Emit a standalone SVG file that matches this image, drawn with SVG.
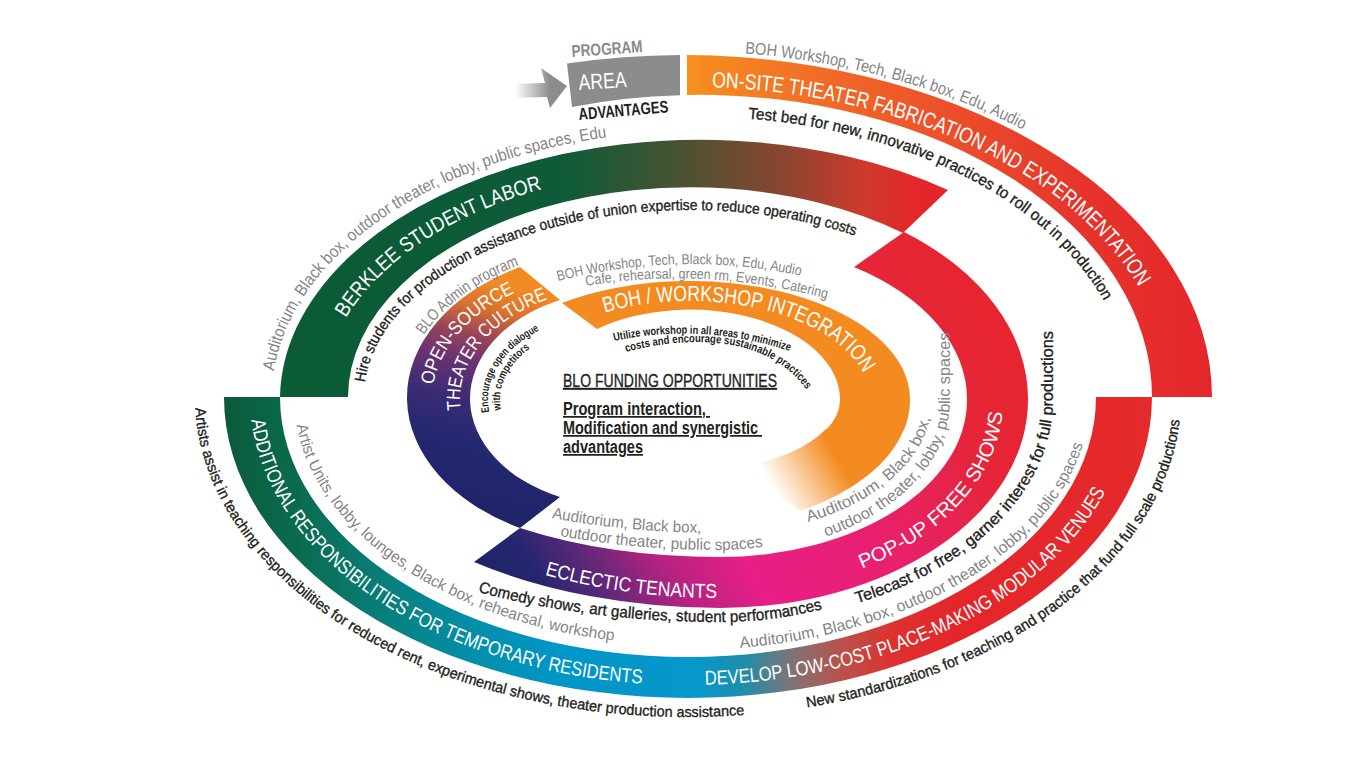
<svg xmlns="http://www.w3.org/2000/svg" width="1366" height="768" viewBox="0 0 1366 768">
<style>
.t{font-family:"Liberation Sans Narrow","Liberation Sans",Arial,sans-serif}
.w{fill:#ffffff}
.g{fill:#858585}
.k{fill:#231f20}
.kd{fill:#231f20;stroke:#231f20;stroke-width:0.35}
.b{font-weight:bold}
</style>
<defs>
<linearGradient id="gOnsite" gradientUnits="userSpaceOnUse" x1="687" y1="200" x2="1212" y2="200">
<stop offset="0" stop-color="#f6901f"/><stop offset="0.25" stop-color="#f16c26"/><stop offset="0.5" stop-color="#ec4f2a"/><stop offset="0.75" stop-color="#e6342b"/><stop offset="1" stop-color="#e4262b"/>
</linearGradient>
<linearGradient id="gBerk" gradientUnits="userSpaceOnUse" x1="280" y1="200" x2="950" y2="200">
<stop offset="0" stop-color="#0b5b37"/><stop offset="0.42" stop-color="#0d5b38"/><stop offset="0.6" stop-color="#4a5232"/><stop offset="0.75" stop-color="#8a4530"/><stop offset="0.87" stop-color="#cc3a2d"/><stop offset="0.95" stop-color="#e4262b"/><stop offset="1" stop-color="#e4262b"/>
</linearGradient>
<linearGradient id="gDev" gradientUnits="userSpaceOnUse" x1="224" y1="397" x2="1152" y2="397">
<stop offset="0" stop-color="#0b5a3a"/><stop offset="0.082" stop-color="#0a6b50"/><stop offset="0.168" stop-color="#087e78"/><stop offset="0.265" stop-color="#048ea8"/><stop offset="0.362" stop-color="#0096c8"/><stop offset="0.513" stop-color="#0897cb"/><stop offset="0.561" stop-color="#1f8ea8"/><stop offset="0.61" stop-color="#7c7479"/><stop offset="0.664" stop-color="#b9524c"/><stop offset="0.718" stop-color="#dc3230"/><stop offset="0.782" stop-color="#e4262b"/><stop offset="1" stop-color="#e52a2b"/>
</linearGradient>
<linearGradient id="gPop" gradientUnits="userSpaceOnUse" x1="990" y1="250" x2="480" y2="560">
<stop offset="0" stop-color="#e6252b"/><stop offset="0.2" stop-color="#e6253a"/><stop offset="0.42" stop-color="#e82070"/><stop offset="0.62" stop-color="#e91e86"/><stop offset="0.75" stop-color="#b02380"/><stop offset="0.85" stop-color="#5d2878"/><stop offset="0.93" stop-color="#262670"/><stop offset="1" stop-color="#1f2468"/>
</linearGradient>
<linearGradient id="gOpen" gradientUnits="userSpaceOnUse" x1="480" y1="530" x2="545" y2="268">
<stop offset="0" stop-color="#1e2266"/><stop offset="0.3" stop-color="#232870"/><stop offset="0.45" stop-color="#3a2b74"/><stop offset="0.6" stop-color="#6a3372"/><stop offset="0.7" stop-color="#9a4558"/><stop offset="0.8" stop-color="#d9702f"/><stop offset="0.9" stop-color="#f08a24"/><stop offset="1" stop-color="#f48b21"/>
</linearGradient>
<linearGradient id="gTail" gradientUnits="userSpaceOnUse" x1="880" y1="440" x2="780" y2="500">
<stop offset="0" stop-color="#f48b21" stop-opacity="1"/><stop offset="0.4" stop-color="#f48b21" stop-opacity="1"/><stop offset="1" stop-color="#f48b21" stop-opacity="0"/>
</linearGradient>
<linearGradient id="gArrow" gradientUnits="userSpaceOnUse" x1="515" y1="90" x2="550" y2="90">
<stop offset="0" stop-color="#8c8c8c" stop-opacity="0"/><stop offset="1" stop-color="#8c8c8c"/>
</linearGradient>
<path id="p_onsite" d="M712,87.3 A480,310 0 0 1 1170,397"/>
<path id="p_boh1" d="M745,53.5 A540,346 0 0 1 1220,397"/>
<path id="p_testbed" d="M748,118.7 A430,280 0 0 1 1130,397"/>
<path id="p_berk" d="M346,318 A372,228 0 0 1 1067,397"/>
<path id="p_aud1" d="M274,371.2 A428,266 0 0 1 1128,397"/>
<path id="p_hire" d="M365,382.4 A326,187 0 0 1 1016,397"/>
<path id="p_addl" d="M251.4,420.1 A438,288 0 0 0 1126,397"/>
<path id="p_dev" d="M705,684.8 A442,288 0 0 0 1130,397 L1130,370"/>
<path id="p_artists" d="M195.3,408.2 A493,320 0 0 0 688,717 A493,320 0 0 0 1181,397"/>
<path id="p_newstd" d="M807,707.5 A493,320 0 0 0 1181,397 L1181,370"/>
<path id="p_units" d="M296.5,425.1 A394,248 0 0 0 688,645 A394,248 0 0 0 1082,397"/>
<path id="p_auddev" d="M740,647.9 A402,253 0 0 0 1090,397"/>
<path id="p_popup" d="M862,568.7 A283,195 0 0 0 1003,400 L1003,370"/>
<path id="p_eclectic" d="M545,574.7 A372,198 0 0 0 720,598 A300,198 0 0 0 1020,400"/>
<path id="p_telecast" d="M857,603.2 A333,223 0 0 0 1053,400 L1053,300"/>
<path id="p_comedy" d="M478,592 A482,222 0 0 0 720,622 A304,222 0 0 0 1024,400"/>
<path id="p_audecl1" d="M552,518 A364,133 0 0 0 720,533 L800,533"/>
<path id="p_audecl2" d="M560,536 A379,150 0 0 0 720,550 A200,150 0 0 0 920,400"/>
<path id="p_audpop1" d="M808,522 A212,134 0 0 0 932,400 L932,330"/>
<path id="p_audpop2" d="M826,536.7 A230,154 0 0 0 950,400 L950,310"/>
<path id="p_open1" d="M433.3,385 A188,130 0 0 1 808,400"/>
<path id="p_open2" d="M460.6,410 A160,113 0 0 1 620,287 A160,113 0 0 1 780,400"/>
<path id="p_bloadmin" d="M423.8,335 A217,152 0 0 1 837,400"/>
<path id="p_enc1" d="M489.2,412 A132,88 0 0 1 620,312 A132,88 0 0 1 752,400"/>
<path id="p_enc2" d="M501,410 A120,78 0 0 1 620,322 A120,78 0 0 1 740,400"/>
<path id="p_bohint" d="M605,312.7 A180,99 0 0 1 870,400"/>
<path id="p_bohl1" d="M558,281 Q680,250 802,276 L830,282"/>
<path id="p_bohl2" d="M586,286 Q705,266 828,299 L855,306"/>
<path id="p_util1" d="M614,341 Q705,322 792,352 L820,362"/>
<path id="p_util2" d="M626,352 C690,335 770,335 808,392 L820,410"/>
</defs>

<rect width="1366" height="768" fill="#ffffff"/>

<g id="legend">
<path d="M567,63.5 A532,342 0 0 1 680,55 L680,95.3 A452,302 0 0 0 572,107 Z" fill="#8c8c8c"/>
<text class="t b" x="572" y="57" font-size="17" fill="#8a8a8a" transform="rotate(-4 572 57)" textLength="71" lengthAdjust="spacingAndGlyphs">PROGRAM</text>
<text class="t w" x="579" y="90" font-size="22" transform="rotate(-3.6 579 90)" textLength="48" lengthAdjust="spacingAndGlyphs">AREA</text>
<text class="t b k" x="579" y="120" font-size="17" transform="rotate(-5 579 120)" textLength="90" lengthAdjust="spacingAndGlyphs">ADVANTAGES</text>
</g>

<g id="connectors">
<polygon points="512,84 545,83 541,68 567,86 550,108 547,97 512,98" fill="url(#gArrow)"/>
</g>

<g id="onsite">
<path d="M687,55 A532,342 0 0 1 1212,397 L1152,397 A452,302 0 0 0 687,95 Z" fill="url(#gOnsite)"/>
<text class="t w" font-size="22"><textPath href="#p_onsite" textLength="490" lengthAdjust="spacingAndGlyphs">ON-SITE THEATER FABRICATION AND EXPERIMENTATION</textPath></text>
<text class="t g" font-size="17"><textPath href="#p_boh1" textLength="290" lengthAdjust="spacingAndGlyphs">BOH Workshop, Tech, Black box, Edu, Audio</textPath></text>
<text class="t kd" font-size="16"><textPath href="#p_testbed" textLength="415" lengthAdjust="spacingAndGlyphs">Test bed for new, innovative practices to roll out in production</textPath></text>
</g>

<g id="berklee">
<path d="M280,397 A420,260 0 0 1 948,190 L903,233 A342,210 0 0 0 348,397 Z" fill="url(#gBerk)"/>
<text class="t w" font-size="21"><textPath href="#p_berk" textLength="240" lengthAdjust="spacingAndGlyphs">BERKLEE STUDENT LABOR</textPath></text>
<text class="t g" font-size="17"><textPath href="#p_aud1" textLength="433" lengthAdjust="spacingAndGlyphs">Auditorium, Black box, outdoor theater, lobby, public spaces, Edu</textPath></text>
<text class="t kd" font-size="15"><textPath href="#p_hire" textLength="563" lengthAdjust="spacingAndGlyphs">Hire students for production assistance outside of union expertise to reduce operating costs</textPath></text>
</g>

<g id="additional-develop">
<path d="M224,397 A464,301 0 0 0 1152,397 L1096,397 A408,260 0 0 1 280,397 Z" fill="url(#gDev)"/>
<text class="t w" font-size="20"><textPath href="#p_addl" textLength="507" lengthAdjust="spacingAndGlyphs">ADDITIONAL RESPONSIBILITIES FOR TEMPORARY RESIDENTS</textPath></text>
<text class="t w" font-size="20"><textPath href="#p_dev" textLength="464" lengthAdjust="spacingAndGlyphs">DEVELOP LOW-COST PLACE-MAKING MODULAR VENUES</textPath></text>
<text class="t kd" font-size="15"><textPath href="#p_artists" textLength="691" lengthAdjust="spacingAndGlyphs">Artists assist in teaching responsibilities for reduced rent, experimental shows, theater production assistance</textPath></text>
<text class="t kd" font-size="15"><textPath href="#p_newstd" textLength="503" lengthAdjust="spacingAndGlyphs">New standardizations for teaching and practice that fund full scale productions</textPath></text>
<text class="t g" font-size="16"><textPath href="#p_units" textLength="408" lengthAdjust="spacingAndGlyphs">Artist Units, lobby, lounges, Black box, rehearsal, workshop</textPath></text>
<text class="t g" font-size="16"><textPath href="#p_auddev" textLength="421" lengthAdjust="spacingAndGlyphs">Auditorium, Black box, outdoor theater, lobby, public spaces</textPath></text>
</g>

<g id="popup-eclectic">
<path d="M904,232 A308,208 0 0 1 1028,400 A308,208 0 0 1 720,608 A395,208 0 0 1 474,562 L520,528 A345,157 0 0 0 720,557 A247,157 0 0 0 967,400 A247,157 0 0 0 854,267 Z" fill="url(#gPop)"/>
<text class="t w" font-size="20"><textPath href="#p_popup" textLength="221" lengthAdjust="spacingAndGlyphs">POP-UP FREE SHOWS</textPath></text>
<text class="t w" font-size="20"><textPath href="#p_eclectic" textLength="174" lengthAdjust="spacingAndGlyphs">ECLECTIC TENANTS</textPath></text>
<text class="t kd" font-size="16"><textPath href="#p_telecast" textLength="371" lengthAdjust="spacingAndGlyphs">Telecast for free, garner interest for full productions</textPath></text>
<text class="t kd" font-size="16"><textPath href="#p_comedy" textLength="348" lengthAdjust="spacingAndGlyphs">Comedy shows, art galleries, student performances</textPath></text>
<text class="t g" font-size="16"><textPath href="#p_audecl1" textLength="150" lengthAdjust="spacingAndGlyphs">Auditorium, Black box,</textPath></text>
<text class="t g" font-size="16"><textPath href="#p_audecl2" textLength="204" lengthAdjust="spacingAndGlyphs">outdoor theater, public spaces</textPath></text>
<text class="t g" font-size="16"><textPath href="#p_audpop1" textLength="168" lengthAdjust="spacingAndGlyphs">Auditorium, Black box,</textPath></text>
<text class="t g" font-size="16"><textPath href="#p_audpop2" textLength="264" lengthAdjust="spacingAndGlyphs">outdoor theater, lobby, public spaces</textPath></text>
</g>

<g id="open-source">
<path d="M520,528 A213,148 0 0 1 407,400 A213,148 0 0 1 520,267 L560,300 A150,108 0 0 0 470,400 A150,108 0 0 0 560,497 Z" fill="url(#gOpen)"/>
<text class="t w" font-size="19"><textPath href="#p_open1" textLength="128" lengthAdjust="spacingAndGlyphs">OPEN-SOURCE</textPath></text>
<text class="t w" font-size="19"><textPath href="#p_open2" textLength="152" lengthAdjust="spacingAndGlyphs">THEATER CULTURE</textPath></text>
<text class="t g" font-size="16"><textPath href="#p_bloadmin" textLength="120" lengthAdjust="spacingAndGlyphs">BLO Admin program</textPath></text>
<text class="t k b" font-size="11"><textPath href="#p_enc1" textLength="103" lengthAdjust="spacingAndGlyphs">Encourage open dialogue</textPath></text>
<text class="t k b" font-size="11"><textPath href="#p_enc2" textLength="72" lengthAdjust="spacingAndGlyphs">with competitors</textPath></text>
</g>

<g id="boh-workshop">
<path d="M562,303 A220,118 0 0 1 910,400 A220,128 0 0 1 904,430 L826,430 A150,71 0 0 0 840,400 A150,90 0 0 0 597,329 Z" fill="#f48b21"/>
<path d="M904,429 A220,128 0 0 1 800,511 L740,467 A150,71 0 0 0 826,429 Z" fill="url(#gTail)"/>
<text class="t w" font-size="22"><textPath href="#p_bohint" textLength="282" lengthAdjust="spacingAndGlyphs">BOH / WORKSHOP INTEGRATION</textPath></text>
<text class="t g" font-size="14.5"><textPath href="#p_bohl1" textLength="245" lengthAdjust="spacingAndGlyphs">BOH Workshop, Tech, Black box, Edu, Audio</textPath></text>
<text class="t g" font-size="14.5"><textPath href="#p_bohl2" textLength="243" lengthAdjust="spacingAndGlyphs">Cafe, rehearsal, green rm, Events, Catering</textPath></text>
<text class="t k b" font-size="11.5"><textPath href="#p_util1" textLength="178" lengthAdjust="spacingAndGlyphs">Utilize workshop in all areas to minimize</textPath></text>
<text class="t k b" font-size="11.5"><textPath href="#p_util2" textLength="196" lengthAdjust="spacingAndGlyphs">costs and encourage sustainable practices</textPath></text>
</g>

<g id="center">
<text class="t kd" x="563" y="387" font-size="17.5" text-decoration="underline" textLength="214" lengthAdjust="spacingAndGlyphs">BLO FUNDING OPPORTUNITIES</text>
<text class="t k b" x="563" y="415" font-size="17.5" text-decoration="underline" textLength="147" lengthAdjust="spacingAndGlyphs">Program interaction,&#160;</text>
<text class="t k b" x="563" y="434" font-size="17.5" text-decoration="underline" textLength="199" lengthAdjust="spacingAndGlyphs">Modification and synergistic&#160;</text>
<text class="t k b" x="563" y="453" font-size="17.5" text-decoration="underline" textLength="80" lengthAdjust="spacingAndGlyphs">advantages</text>
</g>
</svg>
